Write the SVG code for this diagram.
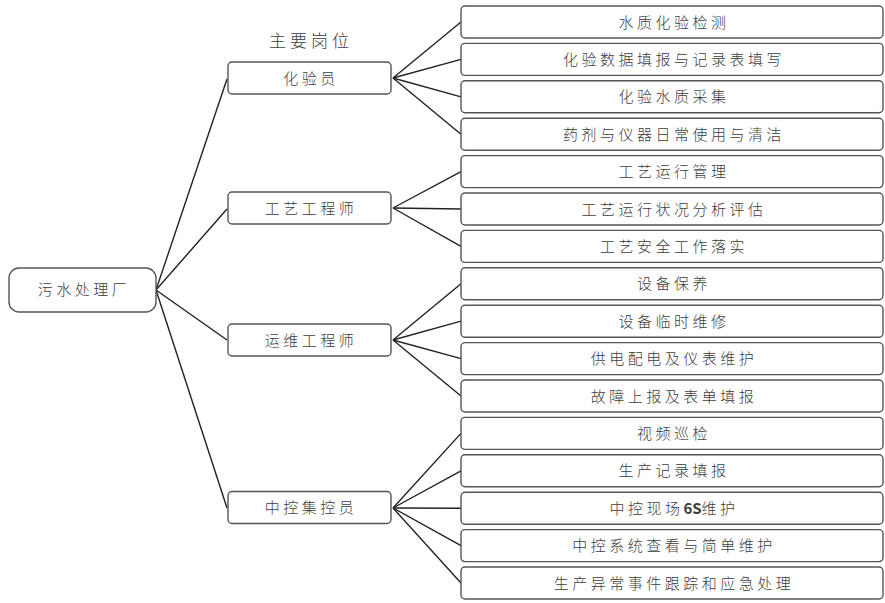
<svg xmlns="http://www.w3.org/2000/svg" width="885" height="603" viewBox="0 0 885 603">
<style>
.n rect{fill:#fff;stroke:#555;stroke-width:1.4}
text{font-family:"Noto Sans CJK SC","Noto Sans",sans-serif;fill:#3c3c3c;font-size:15px;font-weight:300;text-anchor:middle;letter-spacing:3.5px}
.c line{stroke:#222;stroke-width:1.4}
.t{font-size:17px;letter-spacing:4px}
.s{letter-spacing:0}
</style>
<rect width="885" height="603" fill="#fff"/>
<text class="t" x="311" y="47">主要岗位</text>
<g class="c">
<line x1="156" y1="290" x2="227" y2="79"/>
<line x1="156" y1="290" x2="227" y2="209"/>
<line x1="156" y1="290" x2="227" y2="340"/>
<line x1="156" y1="290" x2="227" y2="508"/>
<line x1="393" y1="78" x2="461" y2="22"/>
<line x1="393" y1="78" x2="461" y2="59.4"/>
<line x1="393" y1="78" x2="461" y2="96.8"/>
<line x1="393" y1="78" x2="461" y2="134.2"/>
<line x1="393" y1="208" x2="461" y2="171.6"/>
<line x1="393" y1="208" x2="461" y2="209"/>
<line x1="393" y1="208" x2="461" y2="246.4"/>
<line x1="393" y1="340" x2="461" y2="283.8"/>
<line x1="393" y1="340" x2="461" y2="321.2"/>
<line x1="393" y1="340" x2="461" y2="358.6"/>
<line x1="393" y1="340" x2="461" y2="396"/>
<line x1="393" y1="508" x2="461" y2="433.4"/>
<line x1="393" y1="508" x2="461" y2="470.8"/>
<line x1="393" y1="508" x2="461" y2="508.2"/>
<line x1="393" y1="508" x2="461" y2="545.6"/>
<line x1="393" y1="508" x2="461" y2="583"/>
</g>
<g id="root" class="n"><rect x="9" y="268" width="147" height="44" rx="10"/><text x="84" y="295">污水处理厂</text></g>
<g id="m1" class="n"><rect x="228" y="62" width="163" height="32" rx="4"/><text x="311" y="83.5">化验员</text></g>
<g id="m2" class="n"><rect x="228" y="192" width="163" height="32" rx="4"/><text x="311" y="213.5">工艺工程师</text></g>
<g id="m3" class="n"><rect x="228" y="324" width="163" height="32" rx="4"/><text x="311" y="345.5">运维工程师</text></g>
<g id="m4" class="n"><rect x="228" y="491.5" width="163" height="32" rx="4"/><text x="311" y="513">中控集控员</text></g>
<g id="c1" class="n"><rect x="461" y="6" width="422" height="32" rx="4"/><text x="674" y="27.5">水质化验检测</text></g>
<g id="c2" class="n"><rect x="461" y="43.4" width="422" height="32" rx="4"/><text x="674" y="64.9">化验数据填报与记录表填写</text></g>
<g id="c3" class="n"><rect x="461" y="80.8" width="422" height="32" rx="4"/><text x="674" y="102.3">化验水质采集</text></g>
<g id="c4" class="n"><rect x="461" y="118.2" width="422" height="32" rx="4"/><text x="674" y="139.7">药剂与仪器日常使用与清洁</text></g>
<g id="c5" class="n"><rect x="461" y="155.6" width="422" height="32" rx="4"/><text x="674" y="177.1">工艺运行管理</text></g>
<g id="c6" class="n"><rect x="461" y="193" width="422" height="32" rx="4"/><text x="674" y="214.5">工艺运行状况分析评估</text></g>
<g id="c7" class="n"><rect x="461" y="230.4" width="422" height="32" rx="4"/><text x="674" y="251.9">工艺安全工作落实</text></g>
<g id="c8" class="n"><rect x="461" y="267.8" width="422" height="32" rx="4"/><text x="674" y="289.3">设备保养</text></g>
<g id="c9" class="n"><rect x="461" y="305.2" width="422" height="32" rx="4"/><text x="674" y="326.7">设备临时维修</text></g>
<g id="c10" class="n"><rect x="461" y="342.6" width="422" height="32" rx="4"/><text x="674" y="364.1">供电配电及仪表维护</text></g>
<g id="c11" class="n"><rect x="461" y="380" width="422" height="32" rx="4"/><text x="674" y="401.5">故障上报及表单填报</text></g>
<g id="c12" class="n"><rect x="461" y="417.4" width="422" height="32" rx="4"/><text x="674" y="438.9">视频巡检</text></g>
<g id="c13" class="n"><rect x="461" y="454.8" width="422" height="32" rx="4"/><text x="674" y="476.3">生产记录填报</text></g>
<g id="c14" class="n"><rect x="461" y="492.2" width="422" height="32" rx="4"/><text x="674" y="513.7">中控现场<tspan class="s" font-weight="bold">6S</tspan>维护</text></g>
<g id="c15" class="n"><rect x="461" y="529.6" width="422" height="32" rx="4"/><text x="674" y="551.1">中控系统查看与简单维护</text></g>
<g id="c16" class="n"><rect x="461" y="567" width="422" height="32" rx="4"/><text x="674" y="588.5">生产异常事件跟踪和应急处理</text></g>
</svg>
